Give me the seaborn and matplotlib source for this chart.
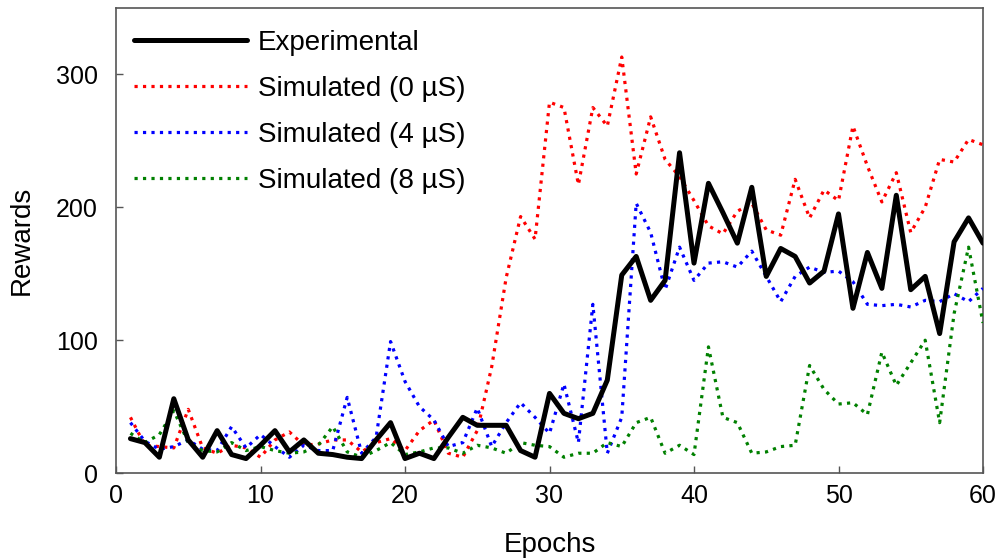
import numpy as np
import pandas as pd
import matplotlib
matplotlib.use("Agg")
import matplotlib.pyplot as plt
import seaborn as sns

epochs = list(range(1, 61))

experimental = [26, 23, 12, 56, 25, 12, 32, 14, 11, 21,
                32, 16, 25, 15, 14, 12, 11, 25, 38, 11,
                15, 11, 27, 42, 36, 36, 36, 17, 12, 60,
                45, 41, 45, 70, 149, 163, 130, 145, 241, 158,
                218, 196, 173, 215, 148, 169, 163, 143, 152, 195,
                124, 166, 139, 209, 138, 148, 105, 174, 192, 173]

sim_0 = [42, 21, 20, 19, 48, 19, 15, 21, 19, 12,
         25, 31, 21, 22, 25, 25, 16, 23, 26, 17,
         32, 40, 15, 12, 32, 80, 147, 193, 176, 279,
         275, 217, 275, 261, 313, 225, 268, 236, 223, 205,
         186, 180, 197, 203, 183, 179, 221, 192, 213, 205,
         261, 231, 204, 226, 181, 200, 236, 234, 251, 247]

sim_4 = [38, 24, 18, 20, 25, 18, 17, 35, 19, 29,
         20, 12, 21, 17, 17, 57, 15, 27, 99, 69,
         50, 40, 20, 23, 49, 20, 38, 53, 42, 30,
         67, 23, 127, 15, 42, 203, 181, 138, 170, 145,
         158, 159, 155, 167, 148, 129, 148, 155, 151, 152,
         144, 127, 126, 127, 125, 130, 129, 135, 129, 139]

sim_8 = [30, 23, 29, 47, 23, 17, 16, 23, 17, 20,
         17, 15, 16, 21, 35, 16, 12, 17, 23, 14,
         16, 19, 19, 15, 21, 19, 15, 23, 21, 20,
         12, 15, 15, 23, 20, 38, 42, 15, 21, 14,
         95, 42, 38, 15, 16, 20, 21, 81, 63, 52,
         53, 44, 91, 66, 83, 100, 38, 120, 170, 113]

labels = ["Experimental", "Simulated (0 µS)", "Simulated (4 µS)", "Simulated (8 µS)"]
colors = ["black", "#ff0000", "#0000ff", "#008000"]

sns.set_style("ticks")
plt.rcParams["font.family"] = ["Liberation Sans", "DejaVu Sans"]
plt.rcParams["text.color"] = "black"
plt.rcParams["axes.labelcolor"] = "black"

fig = plt.figure(figsize=(10, 5.58), dpi=100)
ax = fig.add_axes([0.116, 0.152, 0.867, 0.834])

series = [experimental, sim_0, sim_4, sim_8]
for i, (vals, lab, col) in enumerate(zip(series, labels, colors)):
    if i == 0:
        sns.lineplot(x=epochs, y=vals, ax=ax, color=col, linewidth=3.6,
                     label=lab, zorder=5)
    else:
        sns.lineplot(x=epochs, y=vals, ax=ax, color=col, linewidth=2.3,
                     linestyle=":", label=lab, zorder=3)

ax.set_xlim(0, 60)
ax.set_ylim(0, 350)
ax.set_xticks([0, 10, 20, 30, 40, 50, 60])
ax.set_yticks([0, 100, 200, 300])
ax.tick_params(direction="in", length=5, width=1, color="#555555",
               labelcolor="black", labelsize=18)
ax.tick_params(axis="x", pad=8)
ax.tick_params(axis="y", pad=13)
for s in ax.spines.values():
    s.set_visible(True)
    s.set_color("#555555")
    s.set_linewidth(1.2)

ax.set_xlabel("Epochs", fontsize=20, labelpad=17)
ax.set_ylabel("Rewards", fontsize=20, labelpad=15)

leg = ax.legend(loc="upper left", bbox_to_anchor=(0.0, 0.991), frameon=False,
                fontsize=20, handlelength=4.05, handletextpad=0.42,
                labelspacing=0.72, borderaxespad=0.25, borderpad=0.4)

fig.savefig("out.png", dpi=100)
